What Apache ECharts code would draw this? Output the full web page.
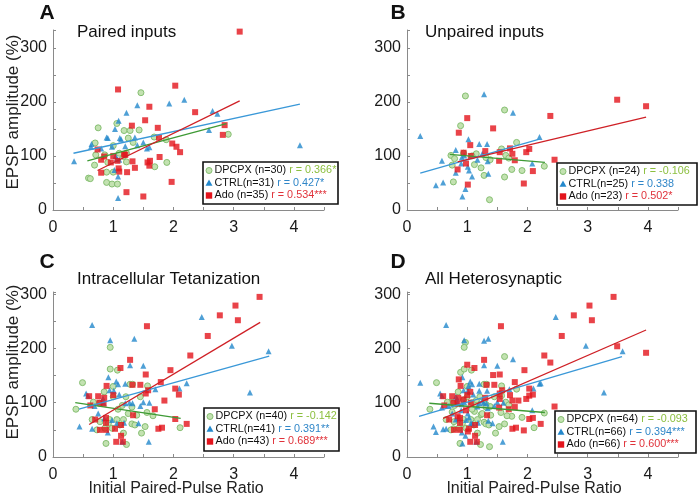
<!DOCTYPE html>
<html><head><meta charset="utf-8">
<script src="https://cdn.jsdelivr.net/npm/echarts@6/dist/echarts.min.js"></script>
<style>html,body{margin:0;padding:0;background:#fff}#c{width:700px;height:496px}</style>
</head><body><div id="c"></div>
<script>
// ---------------- DATA ----------------
const panelTitles = ['Paired inputs', 'Unpaired inputs', 'Intracellular Tetanization', 'All Heterosynaptic'];
const panelLetters = ['A', 'B', 'C', 'D'];
const xTitle = 'Initial Paired-Pulse Ratio';
const yTitle = 'EPSP amplitude (%)';
const groupNames = ['DPCPX', 'CTRL', 'Ado'];

// Panel A: Paired inputs
const aDpcpx = [[1.46,217],[0.75,152],[1.06,160],[1.18,147],[1.28,147],[1.43,148],[1.25,133],[1.33,125],[0.70,124],[1.00,119],[1.68,135],[1.88,130],[0.71,102],[0.86,102],[1.17,99],[1.22,105],[1.10,105],[0.69,83],[0.91,88],[1.22,89],[1.89,88],[1.69,80],[0.89,70],[1.00,70],[0.59,59],[0.62,58],[0.89,51],[0.98,48],[1.07,48],[2.91,140]];
const aCtrl = [[1.40,194],[1.93,197],[2.18,204],[1.22,180],[1.09,165],[1.03,150],[0.89,134],[1.13,131],[1.36,134],[1.40,120],[0.98,117],[0.64,122],[0.63,117],[0.80,114],[1.56,114],[2.65,183],[2.73,178],[2.59,148],[4.10,120],[0.35,90],[1.04,100],[1.10,93],[1.02,74],[1.08,62],[1.08,22],[0.91,133],[1.11,133],[1.20,118],[1.50,125],[1.06,95],[1.60,116]];
const aAdo = [[3.10,330],[1.08,223],[2.03,230],[1.60,191],[1.53,166],[2.36,181],[1.31,156],[1.74,152],[1.76,134],[2.82,139],[2.85,157],[1.98,123],[2.05,117],[2.11,107],[1.18,103],[1.00,100],[0.85,99],[0.80,93],[0.96,88],[1.07,91],[1.77,98],[1.57,88],[1.61,91],[1.60,82],[1.09,77],[1.10,71],[0.80,69],[1.23,70],[1.36,78],[1.97,52],[1.22,33],[1.50,25],[0.74,112],[1.32,90],[1.20,102]];

// Panel B: Unpaired inputs
const bDpcpx = [[0.97,211],[1.62,185],[0.89,156],[1.82,125],[1.57,113],[0.73,101],[0.79,95],[1.15,104],[1.08,100],[1.64,101],[1.38,93],[1.12,84],[0.75,83],[1.23,78],[1.74,75],[1.91,73],[2.28,81],[1.28,64],[1.62,61],[0.77,52],[1.37,19],[1.69,96],[0.94,105],[1.31,97]];
const bCtrl = [[1.28,214],[1.76,180],[0.22,137],[1.02,131],[1.20,122],[1.33,122],[0.81,111],[2.20,135],[0.58,91],[0.91,97],[0.90,86],[1.17,93],[1.34,90],[1.01,80],[1.03,73],[0.81,69],[1.08,62],[1.35,67],[0.48,46],[0.60,51],[0.97,39],[0.92,25],[2.08,86],[0.95,101],[1.25,104]];
const bAdo = [[3.49,204],[3.97,192],[2.38,174],[1.00,170],[1.43,151],[0.86,143],[1.05,120],[2.03,113],[1.71,114],[1.98,107],[1.30,109],[1.54,107],[1.75,104],[0.94,106],[1.06,100],[0.98,86],[1.53,91],[1.79,92],[2.45,93],[0.84,75],[2.09,72],[1.94,49],[1.01,47]];

// Panel C: Intracellular Tetanization
const cDpcpx = [[0.95,202],[0.49,137],[0.95,162],[1.07,160],[1.28,134],[1.57,131],[1.32,134],[0.67,101],[0.77,99],[0.38,88],[1.08,88],[1.56,82],[1.66,76],[0.65,69],[0.94,69],[1.06,69],[1.17,69],[0.92,62],[1.31,61],[1.36,59],[0.73,50],[0.86,53],[0.98,53],[1.11,59],[1.47,44],[1.17,44],[0.88,25],[1.22,23],[2.11,54],[1.31,92],[1.21,111],[1.45,111],[1.00,111],[1.25,80],[0.78,65],[1.53,56],[1.39,77],[1.00,130],[0.85,120],[1.15,95]];
const cCtrl = [[0.65,243],[2.47,258],[0.95,215],[1.35,218],[2.97,205],[3.58,195],[1.28,169],[1.50,168],[0.92,147],[1.05,139],[1.08,134],[0.94,123],[1.01,122],[2.22,136],[2.10,126],[3.27,119],[0.55,117],[0.58,113],[0.69,94],[0.83,108],[1.20,99],[1.27,100],[1.45,94],[1.50,101],[0.44,56],[0.65,52],[0.85,71],[0.98,68],[1.06,62],[1.18,63],[0.91,45],[1.15,28],[1.59,28],[1.42,62],[1.32,99],[0.84,100],[1.20,135],[1.60,100],[0.75,80],[1.10,115],[1.70,125]];
const cAdo = [[3.43,295],[3.03,279],[2.77,261],[3.07,252],[1.56,241],[2.57,223],[2.28,187],[1.28,179],[1.12,164],[1.95,160],[1.54,152],[0.89,131],[1.45,133],[1.32,133],[1.79,138],[2.03,126],[2.09,115],[1.58,123],[1.54,117],[0.75,112],[0.85,109],[0.60,112],[1.00,114],[1.85,104],[1.69,88],[0.77,100],[0.84,98],[1.33,77],[0.70,69],[0.88,72],[0.88,63],[2.03,70],[2.22,61],[1.81,54],[1.75,52],[0.78,50],[0.88,50],[1.03,52],[1.13,59],[1.13,39],[1.05,28],[1.16,28],[0.62,95]];

// Regression line end points [x, y]
const aFitDpcpx = [[0.57,91],[2.88,160]];
const aFitCtrl  = [[0.34,105],[4.10,196]];
const aFitAdo   = [[0.74,73],[3.10,202]];
const bFitDpcpx = [[0.71,103],[2.29,88]];
const bFitCtrl  = [[0.22,68],[2.20,131]];
const bFitAdo   = [[0.84,89],[3.97,172]];
const cFitDpcpx = [[0.37,100],[2.12,71]];
const cFitCtrl  = [[0.43,88],[3.59,186]];
const cFitAdo   = [[0.60,60],[3.44,248]];
const dFitDpcpx = [[0.37,99],[2.29,82]];
const dFitCtrl  = [[0.20,75],[3.57,185]];
const dFitAdo   = [[0.60,71],[3.97,234]];

// Legend statistics per panel: [n, r-text] for DPCPX, CTRL, Ado
const aStats = [[30,'r = 0.366*'],[31,'r = 0.427*'],[35,'r = 0.534***']];
const bStats = [[24,'r = -0.106'],[25,'r = 0.338'],[23,'r = 0.502*']];
const cStats = [[40,'r = -0.142'],[41,'r = 0.391**'],[43,'r = 0.689***']];
const dStats = [[64,'r = -0.093'],[66,'r = 0.394***'],[66,'r = 0.600***']];

// Panel D = all heterosynaptic (B + C)
const dDpcpx = bDpcpx.concat(cDpcpx);
const dCtrl = bCtrl.concat(cCtrl);
const dAdo = bAdo.concat(cAdo);

// ---------------- STYLE / LAYOUT ----------------
const FONT = '"Liberation Sans", Arial, Helvetica, sans-serif';
const colG = '#c3e2b1', colGEdge = '#86bf72', colB = '#2388cc', colR = '#e3141c';
const lineG = '#3e9a35', lineB = '#3a98d8', lineR = '#cf2026';
const rTxt = ['#8cbf3f', '#2f86c8', '#e0323a'];
const axisCol = '#8a8a8a';

const grids = [
  {left:53, top:30, width:271, height:180, ymax:333},
  {left:407, top:30, width:271, height:180, ymax:333},
  {left:53, top:292, width:271, height:165, ymax:304},
  {left:407, top:292, width:271, height:165, ymax:304}
];
const panels = [
  {pts:[aDpcpx,aCtrl,aAdo], fits:[aFitDpcpx,aFitCtrl,aFitAdo], stats:aStats, box:[203,162,135,42]},
  {pts:[bDpcpx,bCtrl,bAdo], fits:[bFitDpcpx,bFitCtrl,bFitAdo], stats:bStats, box:[557,163,140,42]},
  {pts:[cDpcpx,cCtrl,cAdo], fits:[cFitDpcpx,cFitCtrl,cFitAdo], stats:cStats, box:[204,408,135,43]},
  {pts:[dDpcpx,dCtrl,dAdo], fits:[dFitDpcpx,dFitCtrl,dFitAdo], stats:dStats, box:[555,411,141,42]}
];

const xAxes = [], yAxes = [], series = [], graphic = [];
grids.forEach((g, i) => {
  xAxes.push({gridIndex:i, type:'value', min:0, max:4.5, interval:0.5,
    axisLine:{lineStyle:{color:axisCol, width:1}},
    axisTick:{inside:true, length:3, lineStyle:{color:axisCol}},
    splitLine:{show:false},
    axisLabel:{fontSize:16, fontFamily:FONT, color:'#1a1a1a', margin:10,
      formatter: v => (Math.abs(v - Math.round(v)) < 1e-9 ? String(Math.round(v)) : '')}});
  yAxes.push({gridIndex:i, type:'value', min:0, max:g.ymax, interval:50,
    axisLine:{show:true, lineStyle:{color:axisCol, width:1}},
    axisTick:{show:true, inside:true, length:3, lineStyle:{color:axisCol}},
    splitLine:{show:false},
    axisLabel:{fontSize:16, fontFamily:FONT, color:'#1a1a1a', margin:6,
      formatter: v => (v % 100 === 0 ? String(v) : '')}});
});

panels.forEach((p, i) => {
  series.push({type:'scatter', xAxisIndex:i, yAxisIndex:i, data:p.pts[0], symbol:'circle', symbolSize:6,
    itemStyle:{color:colG, borderColor:colGEdge, borderWidth:1, opacity:1}, z:2, silent:true});
  series.push({type:'scatter', xAxisIndex:i, yAxisIndex:i, data:p.pts[1], symbol:'triangle', symbolSize:6,
    itemStyle:{color:colB}, z:3, silent:true});
  series.push({type:'scatter', xAxisIndex:i, yAxisIndex:i, data:p.pts[2], symbol:'rect', symbolSize:6,
    itemStyle:{color:colR}, z:4, silent:true});
  const lc = [lineG, lineB, lineR];
  p.fits.forEach((f, k) => {
    series.push({type:'line', xAxisIndex:i, yAxisIndex:i, data:f, showSymbol:false, symbol:'none',
      lineStyle:{color:lc[k], width:1.3}, z:5, silent:true, animation:false});
  });
});

// Titles and letters
const titlePos = [[77,32],[425,32],[77,279],[425,279]];
const letterPos = [[47,13],[398,13],[47,262],[398,262]];
panelTitles.forEach((t, i) => {
  graphic.push({type:'text', x:titlePos[i][0], y:titlePos[i][1], z:10,
    style:{text:t, font:'17px ' + FONT, fill:'#111', verticalAlign:'middle'}});
  graphic.push({type:'text', x:letterPos[i][0], y:letterPos[i][1], z:10,
    style:{text:panelLetters[i], font:'bold 21px ' + FONT, fill:'#111', align:'center', verticalAlign:'middle'}});
});
// Axis titles
[[13,112],[13,362]].forEach(pos => {
  graphic.push({type:'text', x:pos[0], y:pos[1], rotation:Math.PI/2, z:10,
    style:{text:yTitle, font:'17px ' + FONT, fill:'#222', align:'center', verticalAlign:'middle'}});
});
[[176,489],[534,489]].forEach(pos => {
  graphic.push({type:'text', x:pos[0], y:pos[1], z:10,
    style:{text:xTitle, font:'16px ' + FONT, fill:'#222', align:'center', verticalAlign:'middle'}});
});

// Legends
panels.forEach((p, i) => {
  const [bx, by, bw, bh] = p.box;
  graphic.push({type:'rect', shape:{x:bx, y:by, width:bw, height:bh}, z:20,
    style:{fill:'#fff', stroke:'#111', lineWidth:1.6}});
  const rows = [by + 8.5, by + 21, by + 33.5];
  const mx = bx + 6, tx = bx + 11.5;
  graphic.push({type:'circle', shape:{cx:mx, cy:rows[0], r:3}, z:21, style:{fill:colG, stroke:colGEdge, lineWidth:1}});
  graphic.push({type:'polygon', shape:{points:[[mx, rows[1]-3.5],[mx+3.5, rows[1]+2.8],[mx-3.5, rows[1]+2.8]]}, z:21, style:{fill:colB}});
  graphic.push({type:'rect', shape:{x:mx-3.2, y:rows[2]-3.2, width:6.4, height:6.4}, z:21, style:{fill:colR}});
  const labels = [groupNames[0] + ' (n=' + p.stats[0][0] + ') ', groupNames[1] + '(n=' + p.stats[1][0] + ') ', groupNames[2] + ' (n=' + p.stats[2][0] + ') '];
  labels.forEach((lab, k) => {
    graphic.push({type:'text', x:tx, y:rows[k], z:21,
      style:{text:'{a|' + lab + '}{b|' + p.stats[k][1] + '}', verticalAlign:'middle',
        rich:{a:{fontSize:10.8, fontFamily:FONT, fill:'#111'}, b:{fontSize:10.8, fontFamily:FONT, fill:rTxt[k]}}}});
  });
});

const chart = echarts.init(document.getElementById('c'), null, {renderer:'canvas'});
chart.setOption({
  animation:false,
  backgroundColor:'#fff',
  grid: grids.map(g => ({left:g.left, top:g.top, width:g.width, height:g.height, containLabel:false})),
  xAxis: xAxes, yAxis: yAxes, series: series, graphic: graphic
});
</script></body></html>
